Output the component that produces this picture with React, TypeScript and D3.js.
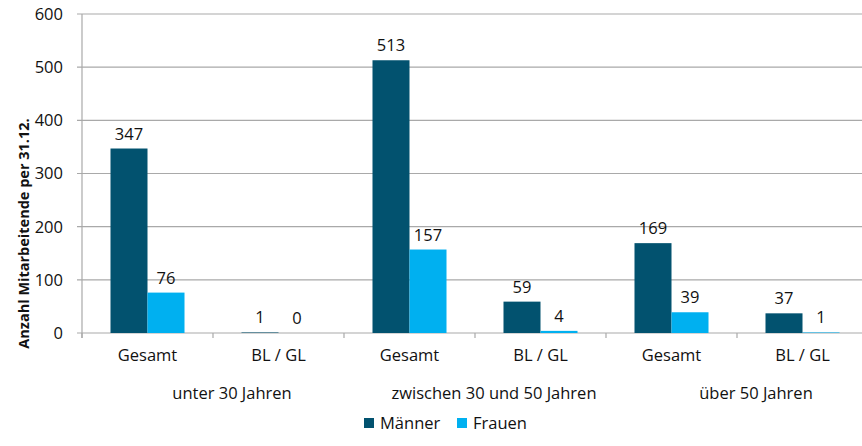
import { useEffect } from "react";
import * as d3 from "d3";

// chart data
const categories = ["Gesamt", "BL / GL", "Gesamt", "BL / GL", "Gesamt", "BL / GL"];
const groups = ["unter 30 Jahren", "zwischen 30 und 50 Jahren", "über 50 Jahren"];
const series = ["Männer", "Frauen"];
const maenner = [347, 1, 513, 59, 169, 37];
const frauen = [76, 0, 157, 4, 39, 1];
const yTicks = [0, 100, 200, 300, 400, 500, 600];

const COLORS = { Männer: "#02526f", Frauen: "#00b0f0" };
const FONT = "'Open Sans', 'Noto Sans', sans-serif";
const FS = 16.5;

const W = 862;
const H = 446;
const m = { left: 82, right: -6, top: 14, bottom: 113 };

const App = () => {
  useEffect(() => {
    document.body.style.margin = "0";
  }, []);

  const x = d3
    .scaleBand<number>()
    .domain(categories.map((_, i) => i))
    .range([m.left, W - m.right]);
  const xs = d3
    .scaleBand<string>()
    .domain(series)
    .range([0, x.bandwidth()])
    .paddingOuter(0.77);
  const y = d3.scaleLinear().domain([0, 600]).range([H - m.bottom, m.top]);

  const values = { Männer: maenner, Frauen: frauen };
  const grid = "#a9a9a9";

  return (
    <svg width={W} height={H} style={{ display: "block", background: "#fff" }} fontFamily={FONT}>
      {/* gridlines + y ticks */}
      {yTicks.map((t) => (
        <g key={t}>
          <line x1={m.left - 5} x2={W} y1={y(t)} y2={y(t)} stroke={grid} strokeWidth={1.2} />
          <text x={63} y={y(t)} dy="0.36em" textAnchor="end" fontSize={FS} fill="#111">
            {t}
          </text>
        </g>
      ))}
      <line x1={m.left} x2={m.left} y1={y(600)} y2={y(0) + 5} stroke={grid} strokeWidth={1.2} />
      {/* category ticks */}
      {categories.map((_, i) => (
        <line key={i} x1={x(i)} x2={x(i)} y1={y(0)} y2={y(0) + 5} stroke={grid} strokeWidth={1.2} />
      ))}

      {/* bars */}
      {series.map((s) =>
        values[s].map((v, i) => (
          <g key={s + i}>
            <rect
              x={x(i)! + xs(s)!}
              y={y(v)}
              width={xs.bandwidth()}
              height={y(0) - y(v)}
              fill={COLORS[s]}
            />
            <text
              x={x(i)! + xs(s)! + xs.bandwidth() / 2}
              y={y(v) - 9}
              textAnchor="middle"
              fontSize={FS}
              fill="#111"
            >
              {v}
            </text>
          </g>
        ))
      )}

      {/* category labels */}
      {categories.map((c, i) => (
        <text key={i} x={x(i)! + x.bandwidth() / 2} y={361} textAnchor="middle" fontSize={FS} fill="#111">
          {c}
        </text>
      ))}
      {groups.map((g, gi) => (
        <text
          key={g}
          x={x(gi * 2)! + x.bandwidth() + 19}
          y={399}
          textAnchor="middle"
          fontSize={FS}
          fill="#111"
        >
          {g}
        </text>
      ))}

      {/* y axis title */}
      <text
        transform={`translate(29,${(y(0) + y(600)) / 2 + 60}) rotate(-90)`}
        textAnchor="middle"
        fontSize={14.5}
        fontWeight="bold"
        fill="#111"
      >
        Anzahl Mitarbeitende per 31.12.
      </text>

      {/* legend */}
      {series.map((s, i) => (
        <g key={s} transform={`translate(${364 + i * 93},418)`}>
          <rect width={10} height={10} fill={COLORS[s]} />
          <text x={16} y={5} dy="0.36em" fontSize={FS} fill="#111">
            {s}
          </text>
        </g>
      ))}
    </svg>
  );
};

export default App;
